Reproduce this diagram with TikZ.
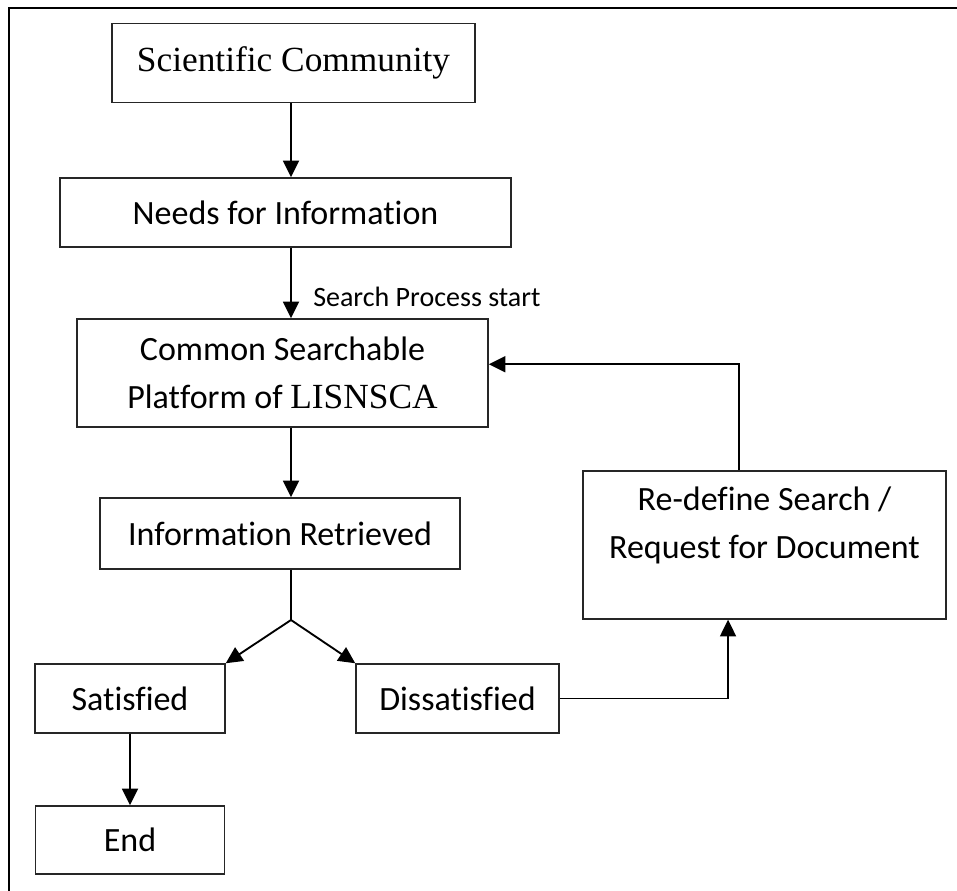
\documentclass[tikz,border=0pt]{standalone}
\usepackage{fontspec}
\setmainfont{Carlito}[Ligatures=NoCommon]
\newfontfamily\timesface{Liberation Serif}
\usepackage{tikz}
\usetikzlibrary{arrows.meta,calc}

\begin{document}
\begin{tikzpicture}[x=0.75pt,y=-0.75pt]
\tikzstyle{every node}+=[inner sep=0pt]
\tikzstyle{flowbox}=[draw=black!85,line width=1.1pt,align=center,font=\fontsize{25.5}{36}\selectfont]
\tikzstyle{flowline}=[line width=1.4pt,-{Triangle[length=12.5pt,width=12pt]}]
\useasboundingbox (0,0) rectangle (957,891);
\draw [line width=1.5pt] (9,891) -- (9,8) -- (957,8);
\node [flowbox,minimum width=272.25pt,minimum height=59.25pt,font=\timesface\fontsize{26.5}{32}\selectfont] (sci) at (293.5,63) {Scientific Community};
\node [flowbox,minimum width=338.25pt,minimum height=51.75pt] (needs) at (285.5,212.5) {Needs for Information};
\node [flowbox,minimum width=308.25pt,minimum height=81pt] (common) at (282.5,373) {Common Searchable\\Platform of {\timesface\fontsize{26.5}{36}\selectfont LISNSCA}};
\node [flowbox,minimum width=270pt,minimum height=53.25pt] (info) at (280,533.5) {Information Retrieved};
\node [flowbox,minimum width=272.25pt,minimum height=111pt] (redef) at (764.5,545) {\parbox[c][87pt][t]{260pt}{\centering Re-define Search /\\Request for Document}};
\node [flowbox,minimum width=142.5pt,minimum height=51.75pt] (sat) at (130,698.5) {Satisfied};
\node [flowbox,minimum width=152.25pt,minimum height=51.75pt] (dis) at (457.5,698.5) {Dissatisfied};
\node [flowbox,minimum width=141.75pt,minimum height=51pt] (end) at (130,840) {End};
\coordinate (fork) at (291,620);
\draw [flowline] (sci.south -| fork) -- (needs.north -| fork);
\draw [flowline] (needs.south -| fork) -- (common.north -| fork)
  node [pos=0.7,anchor=west,xshift=16pt,font=\fontsize{21}{24}\selectfont] (search) {Search Process start};
\draw [flowline] (common.south -| fork) -- (info.north -| fork);
\draw [line width=1.4pt] (info.south -| fork) -- (fork);
\draw [flowline] (fork) -- (sat.north east);
\draw [flowline] (fork) -- (dis.north west);
\draw [flowline] (sat.south) -- (end.north);
\draw [flowline] (dis.east) -| ($(redef.south west)!0.4!(redef.south east)$);
\draw [flowline] ($(redef.north west)!0.43!(redef.north east)$) |- ($(common.north east)!0.42!(common.south east)$);
\end{tikzpicture}
\end{document}
